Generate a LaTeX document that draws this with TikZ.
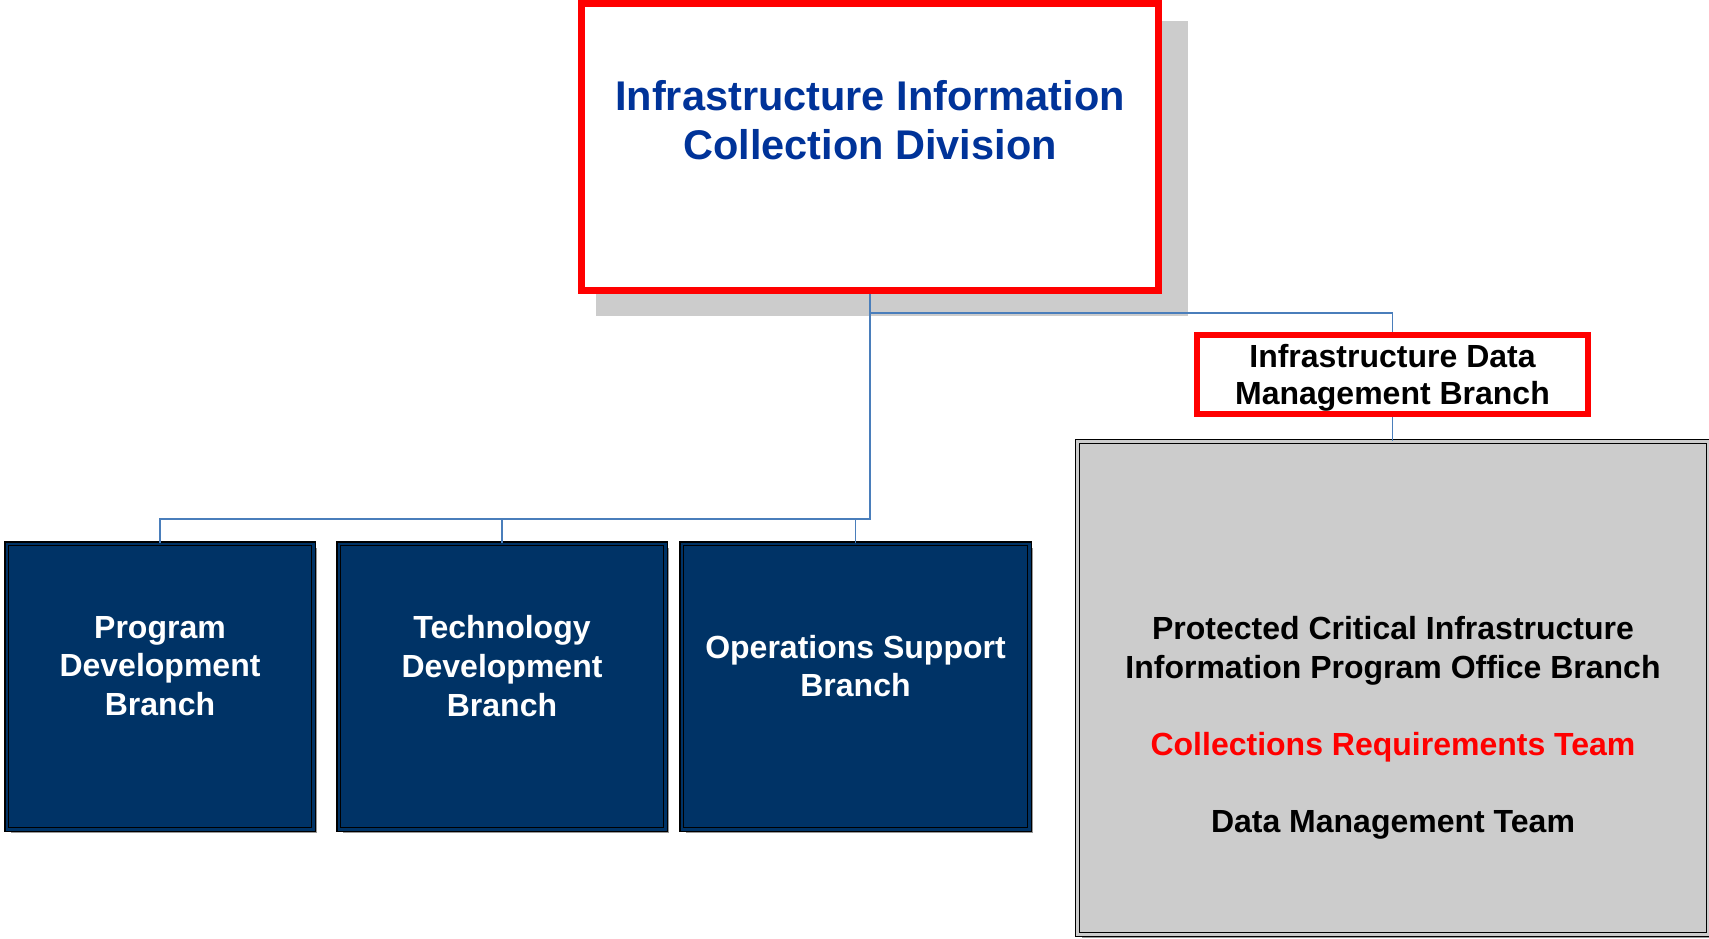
\documentclass[tikz,border=0pt]{standalone}
\usepackage{fontspec}
\setmainfont{Liberation Sans}
\usetikzlibrary{positioning, shadows}

\definecolor{divblue}{HTML}{003399}
\definecolor{navyfill}{HTML}{003366}
\definecolor{panelgray}{HTML}{CCCCCC}
\definecolor{linkblue}{HTML}{4A7EBB}

\begin{document}
\begin{tikzpicture} [x = 1pt, y = -1pt, font = \bfseries,
redbox/.style = {draw = red, fill = white, line width = #1, inner sep = 0pt},
edgeshadow/.style = {drop shadow = {shadow xshift = 4pt, shadow yshift = -4pt, fill = black!40, opacity = 1}},
branchbox/.style = {draw = black, double = navyfill, double distance = 2.5pt, line width = 1.3pt, fill = navyfill, minimum height = 285.5pt, inner sep = 0pt, edgeshadow},
panelbox/.style = {draw = black, double = panelgray, double distance = 2.5pt, line width = 1.3pt, fill = panelgray, inner sep = 0pt, edgeshadow},
branchtext/.style = {text = white, align = center, font = \bfseries\fontsize{32}{38.7}\selectfont},
conn/.style = {draw = linkblue, line width = 1.5pt}]

\useasboundingbox (0,0) rectangle (1709,938);

\node (div) [redbox = 7pt, minimum width = 577pt, minimum height = 287pt,
  drop shadow = {shadow xshift = 21.5pt, shadow yshift = -21pt, shadow scale = 1.025, fill = panelgray, opacity = 1}] at (870,147) {};
\node (divl) [text = divblue, align = center, font = \bfseries\fontsize{41.5}{49}\selectfont] at (870,120) {Infrastructure Information\\Collection Division};

\node (pdb) [branchbox, minimum width = 306.5pt] at (160,686.5) {};
\node (tdb) [branchbox, minimum width = 326.5pt] at (502,686.5) {};
\node (osb) [branchbox, minimum width = 347.5pt] at (855.5,686.5) {};
\node (pdbl) [branchtext] at (160,666) {Program\\Development\\Branch};
\node (tdbl) [branchtext] at (502,666) {Technology\\Development\\Branch};
\node (osbl) [branchtext] at (855.5,666) {Operations Support\\Branch};

\node (idm) [redbox = 6pt, minimum width = 391pt, minimum height = 79pt] at (1392.5,374.5) {};
\node (idml) [align = center, font = \bfseries\fontsize{32}{37}\selectfont] at (1392.5,378) {Infrastructure Data\\Management Branch};

\node (pcii) [panelbox, minimum width = 630.75pt, minimum height = 492.75pt] at (1393.1,688.1) {};
\node (pciil) [align = center, font = \bfseries\fontsize{32}{38.5}\selectfont] at (1393,728)
  {Protected Critical Infrastructure\\Information Program Office Branch\\[39pt]
   \textcolor{red}{Collections Requirements Team}\\[38pt]Data Management Team};

\coordinate (bus) at (870,519);
\coordinate (tap) at (870,313);

\draw [conn] (div) -- (bus) -| (pdb);
\draw [conn] (bus) -| (tdb);
\draw [conn] (bus) -| (osb);
\draw [conn] (tap) -| (idm);
\draw [conn] (idm.south) -- (idm.south |- pcii.north);
\end{tikzpicture}
\end{document}
